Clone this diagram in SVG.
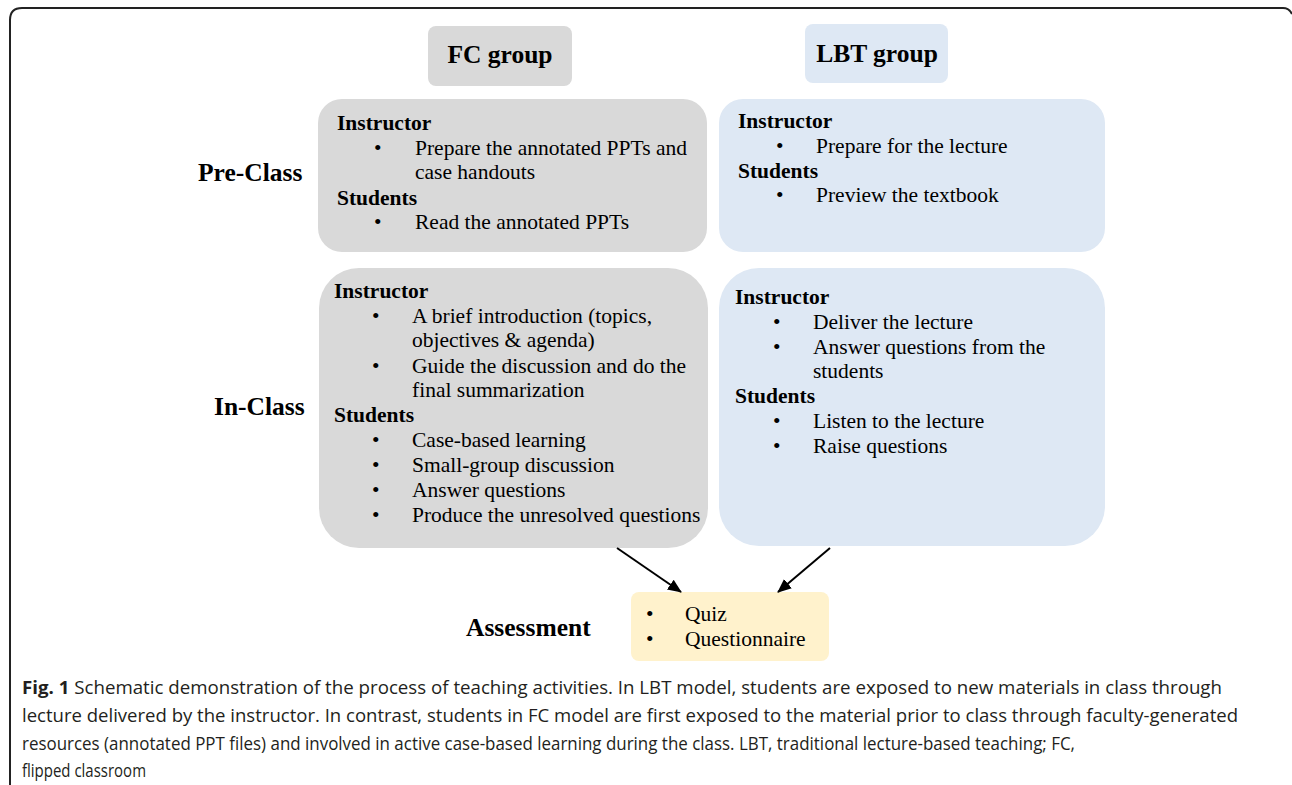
<svg xmlns="http://www.w3.org/2000/svg" width="1292" height="785" viewBox="0 0 1292 785">
<style>
.t{font-family:"Liberation Serif","Times New Roman",serif;font-size:21.5px;fill:#000}
.b{font-weight:bold}
.lab{font-family:"Liberation Serif","Times New Roman",serif;font-size:25.5px;font-weight:bold;fill:#000}
.gray{fill:#d9d9d9}
.blue{fill:#dee8f4}
.cap{font-family:"Open Sans","Noto Sans",sans-serif;font-size:18px;fill:#231f20}
</style>
<defs>
<marker id="ah" markerWidth="14" markerHeight="14" refX="13" refY="6" orient="auto" markerUnits="userSpaceOnUse" viewBox="0 0 14 12">
<path d="M0,0 L14,6 L0,12 z" fill="#000"/>
</marker>
</defs>
<rect width="1292" height="785" fill="#fff"/>
<path d="M10,785 L10,20 Q10,8 22,8 L1283,8 Q1289,8 1292,14" fill="none" stroke="#222" stroke-width="2"/>

<g id="fc-header">
<rect x="428" y="26" width="144" height="60" rx="8" class="gray"/>
<text x="500" y="63" class="lab" text-anchor="middle">FC group</text>
</g>
<g id="lbt-header">
<rect x="805" y="24" width="143" height="59" rx="8" class="blue"/>
<text x="877" y="62" class="lab" text-anchor="middle">LBT group</text>
</g>

<g id="label-pre"><text x="198" y="181" class="lab">Pre-Class</text></g>
<g id="label-in"><text x="214" y="415" class="lab">In-Class</text></g>
<g id="label-assess"><text x="466" y="636" class="lab">Assessment</text></g>

<g id="fc-pre">
<rect x="318" y="99" width="389" height="153" rx="24" class="gray"/>
<text class="t b" x="337" y="130">Instructor</text>
<text class="t" x="374" y="155">•</text>
<text class="t" x="415" y="155">Prepare the annotated PPTs and</text>
<text class="t" x="415" y="179">case handouts</text>
<text class="t b" x="337" y="205">Students</text>
<text class="t" x="374" y="229">•</text>
<text class="t" x="415" y="229">Read the annotated PPTs</text>
</g>

<g id="lbt-pre">
<rect x="719" y="99" width="386" height="153" rx="24" class="blue"/>
<text class="t b" x="738" y="128">Instructor</text>
<text class="t" x="776" y="153">•</text>
<text class="t" x="816" y="153">Prepare for the lecture</text>
<text class="t b" x="738" y="178">Students</text>
<text class="t" x="776" y="202">•</text>
<text class="t" x="816" y="202">Preview the textbook</text>
</g>

<g id="fc-in">
<rect x="319" y="268" width="389" height="280" rx="40" class="gray"/>
<text class="t b" x="334" y="298">Instructor</text>
<text class="t" x="372" y="323">•</text>
<text class="t" x="412" y="323">A brief introduction (topics,</text>
<text class="t" x="412" y="347">objectives &amp; agenda)</text>
<text class="t" x="372" y="373">•</text>
<text class="t" x="412" y="373">Guide the discussion and do the</text>
<text class="t" x="412" y="397">final summarization</text>
<text class="t b" x="334" y="422">Students</text>
<text class="t" x="372" y="447">•</text>
<text class="t" x="412" y="447">Case-based learning</text>
<text class="t" x="372" y="472">•</text>
<text class="t" x="412" y="472">Small-group discussion</text>
<text class="t" x="372" y="497">•</text>
<text class="t" x="412" y="497">Answer questions</text>
<text class="t" x="372" y="522">•</text>
<text class="t" x="412" y="522">Produce the unresolved questions</text>
</g>

<g id="lbt-in">
<rect x="719" y="268" width="386" height="278" rx="40" class="blue"/>
<text class="t b" x="735" y="304">Instructor</text>
<text class="t" x="773" y="329">•</text>
<text class="t" x="813" y="329">Deliver the lecture</text>
<text class="t" x="773" y="354">•</text>
<text class="t" x="813" y="354">Answer questions from the</text>
<text class="t" x="813" y="378">students</text>
<text class="t b" x="735" y="403">Students</text>
<text class="t" x="773" y="428">•</text>
<text class="t" x="813" y="428">Listen to the lecture</text>
<text class="t" x="773" y="453">•</text>
<text class="t" x="813" y="453">Raise questions</text>
</g>

<g id="assessment">
<rect x="631" y="592" width="198" height="69" rx="8" fill="#fff2cc"/>
<text class="t" x="646" y="621">•</text>
<text class="t" x="685" y="621">Quiz</text>
<text class="t" x="646" y="646">•</text>
<text class="t" x="685" y="646">Questionnaire</text>
</g>

<g id="connectors" stroke="#000" stroke-width="2" fill="none">
<line x1="617" y1="548" x2="681" y2="592" marker-end="url(#ah)"/>
<line x1="830" y1="548" x2="778" y2="592" marker-end="url(#ah)"/>
</g>

<g id="caption">
<text class="cap" x="22" y="694" textLength="1200" lengthAdjust="spacingAndGlyphs"><tspan font-weight="bold">Fig. 1</tspan> Schematic demonstration of the process of teaching activities. In LBT model, students are exposed to new materials in class through</text>
<text class="cap" x="22" y="722" textLength="1216" lengthAdjust="spacingAndGlyphs">lecture delivered by the instructor. In contrast, students in FC model are first exposed to the material prior to class through faculty-generated</text>
<text class="cap" x="22" y="750" textLength="1053" lengthAdjust="spacingAndGlyphs">resources (annotated PPT files) and involved in active case-based learning during the class. LBT, traditional lecture-based teaching; FC,</text>
<text class="cap" x="22" y="777" textLength="124" lengthAdjust="spacingAndGlyphs">flipped classroom</text>
</g>
</svg>
